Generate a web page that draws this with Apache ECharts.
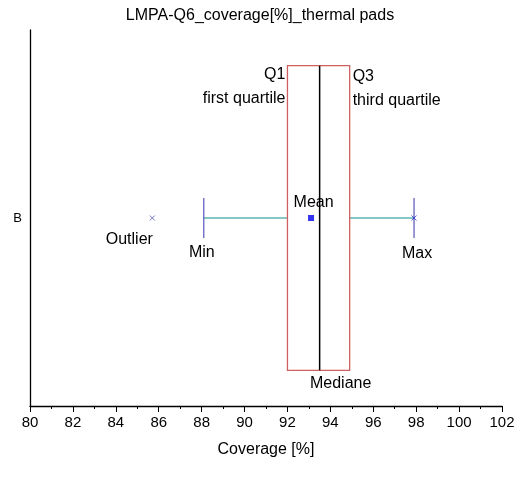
<!DOCTYPE html><html><head><meta charset="utf-8">
<script src="https://cdn.jsdelivr.net/npm/echarts@6/dist/echarts.min.js"></script>
<style>html,body{margin:0;background:#fff}#c{width:520px;height:480px}</style></head><body><div id="c"></div>
<script>
const categories=['B'];
const boxStats=[[88.1,92.0,93.5,94.9,97.9]]; // min,Q1,median,Q3,max
const meanValues=[93.1];
const outliers=[[85.7,0]];
const xTicks={min:80,max:102,interval:2};
const F='Arial, Liberation Sans, sans-serif';
const chart=echarts.init(document.getElementById('c'));
function txt(x,y,s,align,vAlign){return {type:'text',x:x,y:y,style:{text:s,fill:'#000',font:'16px '+F,align:align,verticalAlign:vAlign}};}
chart.setOption({
 animation:false,
 title:{text:'LMPA-Q6_coverage[%]_thermal pads',left:'center',top:3,textStyle:{fontFamily:F,fontSize:16,fontWeight:'normal',color:'#000'}},
 grid:{left:30,right:18,top:30,bottom:74},
 xAxis:{type:'value',min:xTicks.min,max:xTicks.max,interval:xTicks.interval,name:'Coverage [%]',nameLocation:'middle',nameGap:36,
  nameTextStyle:{fontFamily:F,fontSize:16,color:'#000'},
  axisLine:{show:true,onZero:false,lineStyle:{color:'#000',width:1.3}},axisTick:{show:true,inside:false,lineStyle:{color:'#000'},length:6},minorTick:{show:true,splitNumber:2,length:3,lineStyle:{color:'#000'}},
  axisLabel:{fontFamily:F,fontSize:15,color:'#000',margin:9},splitLine:{show:false}},
 yAxis:{type:'category',data:categories,axisLine:{show:true,lineStyle:{color:'#000',width:1.3}},axisTick:{show:false},axisLabel:{fontFamily:F,fontSize:13,color:'#000'},splitLine:{show:false}},
 series:[
  {type:'custom',data:boxStats.map((d,i)=>[i,...d]),renderItem:function(params,api){
    const c=api.value(0);
    const p=k=>api.coord([api.value(k),c]);
    const mn=p(1),q1=p(2),md=p(3),q3=p(4),mx=p(5);
    const h=api.size([0,1])[1]*0.81, cy=mn[1], top=cy-h/2, bot=cy+h/2, cap=20;
    return {type:'group',children:[
     {type:'line',shape:{x1:mn[0],y1:cy,x2:q1[0],y2:cy},style:{stroke:'#5fb3b3',lineWidth:1.5}},
     {type:'line',shape:{x1:q3[0],y1:cy,x2:mx[0],y2:cy},style:{stroke:'#5fb3b3',lineWidth:1.5}},
     {type:'line',shape:{x1:mn[0],y1:cy-cap,x2:mn[0],y2:cy+cap},style:{stroke:'#5555bb',lineWidth:1.2}},
     {type:'line',shape:{x1:mx[0],y1:cy-cap,x2:mx[0],y2:cy+cap},style:{stroke:'#5555bb',lineWidth:1.2}},
     {type:'rect',shape:{x:q1[0],y:top,width:q3[0]-q1[0],height:h},style:{fill:'none',stroke:'#d06060',lineWidth:1.3}},
     {type:'line',shape:{x1:md[0],y1:top,x2:md[0],y2:bot},style:{stroke:'#000',lineWidth:1.5}},
     txt(q1[0]-2,top+1,'Q1','right','top'),
     txt(q1[0]-2,top+25,'first quartile','right','top'),
     txt(q3[0]+3,top+3,'Q3','left','top'),
     txt(q3[0]+3,top+27,'third quartile','left','top'),
     txt(md[0]-6,cy-15,'Mean','center','middle'),
     txt(mn[0]-2,cy+35,'Min','center','middle'),
     txt(mx[0]+3,cy+36,'Max','center','middle'),
     txt(md[0]+21,bot+13,'Mediane','center','middle'),
     txt(api.coord([outliers[0][0],c])[0]-23,cy+22,'Outlier','center','middle')
    ]};
  }},
  {type:'scatter',data:meanValues.map((v,i)=>[v,i]),symbol:'rect',symbolSize:6,itemStyle:{color:'#0000ee'},z:5},
  {type:'scatter',data:outliers,symbol:'path://M0,0L10,10M10,0L0,10',symbolSize:5,itemStyle:{color:'none',borderColor:'#5555bb',borderWidth:1}},
  {type:'scatter',data:[[97.9,0]],symbol:'path://M0,0L10,10M10,0L0,10',symbolSize:5,itemStyle:{color:'none',borderColor:'#3333cc',borderWidth:1}}
 ]
});
</script></body></html>
